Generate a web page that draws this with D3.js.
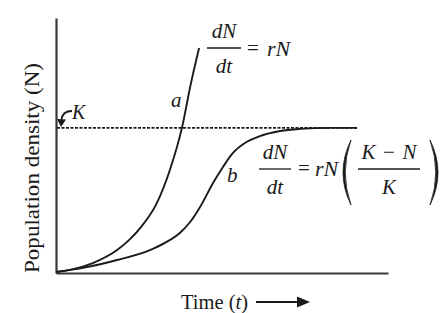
<!DOCTYPE html>
<html>
<head>
<meta charset="utf-8">
<script src="https://cdn.jsdelivr.net/npm/d3@7"></script>
<style>
  html, body { margin: 0; padding: 0; background: #fff; }
  svg { display: block; }
  text { font-family: "Liberation Serif", "DejaVu Serif", "Times New Roman", serif; fill: #1a1a1a; }
</style>
</head>
<body>
<svg id="chart" width="447" height="313"></svg>
<script>
// ---- data (time 0..10, density 0..100) ----
const timeA = [0, 0.42, 1.11, 1.84, 2.23, 2.56, 3.04, 3.43, 3.80, 4.04, 4.31];
const densityA = [0.4, 1.2, 3.9, 9.0, 13.3, 18.0, 27.5, 40.4, 57.3, 72.9, 88.2];
const timeB = [0, 0.81, 1.84, 2.83, 3.28, 3.73, 4.04, 4.34, 4.73, 5.03, 5.33, 5.69, 6.14, 6.75, 7.35, 8.25, 9.07];
const densityB = [0.4, 2.0, 5.1, 9.0, 11.8, 15.7, 20.0, 25.9, 35.3, 41.6, 47.1, 51.0, 53.7, 55.7, 56.5, 56.9, 56.9];
const carryingK = 56.9;
const kLineEnd = 9.07;
const timeDomain = [0, 10];
const densityDomain = [0, 100];

const svg = d3.select("#chart");
const x = d3.scaleLinear().domain(timeDomain).range([56, 388]);
const y = d3.scaleLinear().domain(densityDomain).range([273, 18]);

// axes (domain lines only, no ticks)
const axisStyle = g => {
  g.select(".domain").attr("stroke", "#383838").attr("stroke-width", 2.2);
  g.selectAll(".tick").remove();
};
svg.append("g").attr("transform", `translate(${x(0)},0)`)
  .call(d3.axisLeft(y).ticks(0).tickSizeOuter(0)).call(axisStyle);
svg.append("g").attr("transform", `translate(0,${y(0)})`)
  .call(d3.axisBottom(x).ticks(0).tickSizeOuter(0)).call(axisStyle);

// carrying capacity dashed line
svg.append("line")
  .attr("x1", x(0) + 1).attr("x2", x(kLineEnd))
  .attr("y1", y(carryingK)).attr("y2", y(carryingK))
  .attr("stroke", "#1a1a1a").attr("stroke-width", 1.6)
  .attr("stroke-dasharray", "3,1.5");

const line = d3.line().x(d => x(d[0])).y(d => y(d[1])).curve(d3.curveMonotoneX);
const ptsA = timeA.map((t, i) => [t, densityA[i]]);
const ptsB = timeB.map((t, i) => [t, densityB[i]]);
svg.append("path").attr("d", line(ptsA)).attr("fill", "none")
  .attr("stroke", "#1a1a1a").attr("stroke-width", 1.9);
svg.append("path").attr("d", line(ptsB)).attr("fill", "none")
  .attr("stroke", "#1a1a1a").attr("stroke-width", 1.9);

// ---- labels ----
function txt(xp, yp, parts, anchor, size) {
  const t = svg.append("text").attr("x", xp).attr("y", yp)
    .attr("font-size", size || 20).attr("text-anchor", anchor || "start");
  parts.forEach(p => {
    t.append("tspan").attr("font-style", p[1] ? "italic" : "normal").text(p[0]);
  });
  return t;
}

// y-axis label
svg.append("text")
  .attr("transform", `translate(39,168) rotate(-90)`)
  .attr("text-anchor", "middle").attr("font-size", 20)
  .attr("textLength", 210).attr("lengthAdjust", "spacingAndGlyphs")
  .text("Population density (N)");

// x-axis label with arrow
txt(181, 309, [["Time (", false], ["t", true], [")", false]], "start", 20.5);
svg.append("line").attr("x1", 256).attr("x2", 300).attr("y1", 302).attr("y2", 302)
  .attr("stroke", "#1a1a1a").attr("stroke-width", 2);
svg.append("path").attr("d", "M297,296.5 L310,302 L297,307.5 Z").attr("fill", "#1a1a1a");

// K label with curved arrow
txt(72, 119, [["K", true]], "start", 20);
svg.append("path").attr("d", "M72,111 C66,111 62,114 61.5,120")
  .attr("fill", "none").attr("stroke", "#1a1a1a").attr("stroke-width", 1.8);
svg.append("path").attr("d", "M57,119 L66,119.5 L61,127 Z").attr("fill", "#1a1a1a");

// curve labels
txt(171, 107, [["a", true]], "start", 21);
txt(227, 182, [["b", true]], "start", 21);

// fractions
function frac(cx, barY, num, den, x1, x2, numLen) {
  const n = txt(cx, barY - 10, num, "middle", 21);
  if (numLen) n.attr("textLength", numLen).attr("lengthAdjust", "spacing");
  txt(cx, barY + 25, den, "middle", 21);
  svg.append("line").attr("x1", x1).attr("x2", x2).attr("y1", barY).attr("y2", barY)
    .attr("stroke", "#1a1a1a").attr("stroke-width", 1.3);
}
function eqRN(xEq, xRN, base) {
  txt(xEq, base - 1, [["=", false]], "start", 21);
  txt(xRN, base, [["rN", true]], "start", 22);
}
// formula 1: dN/dt = rN
frac(224, 48, [["dN", true]], [["dt", true]], 207, 241);
eqRN(247, 267, 56);

// formula 2: dN/dt = rN((K-N)/K)
frac(275, 169, [["dN", true]], [["dt", true]], 259, 291);
eqRN(298, 315, 176);
svg.append("path").attr("d", "M351,140 Q335,172.5 351,205 Q339.5,172.5 351,140 Z")
  .attr("fill", "#1a1a1a").attr("stroke", "#1a1a1a").attr("stroke-width", 0.8);
frac(389, 169, [["K", true], [" \u2212 ", false], ["N", true]], [["K", true]], 358, 420, 55);
svg.append("path").attr("d", "M430,140 Q446,172.5 430,205 Q441.5,172.5 430,140 Z")
  .attr("fill", "#1a1a1a").attr("stroke", "#1a1a1a").attr("stroke-width", 0.8);
</script>
</body>
</html>
